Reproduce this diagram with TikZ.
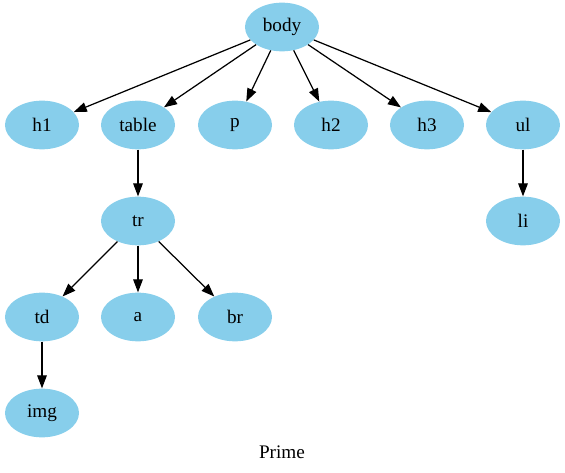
\documentclass[tikz,border=0pt]{standalone}
\usepackage{fontspec}
\setmainfont{Liberation Serif}
\usetikzlibrary{shapes.geometric,arrows.meta}
\definecolor{skyblue}{HTML}{87CEEB}
\begin{document}
\begin{tikzpicture}[x=0.7292pt,y=-0.7292pt,
  treenode/.style={ellipse,fill=skyblue,draw=none,minimum width=54pt,minimum height=35.5pt,inner sep=0pt,font=\fontsize{14pt}{16pt}\selectfont},
  edge/.style={draw=black,line width=0.9pt,-{Triangle[length=9.5pt,width=7pt]}}]
\useasboundingbox (0,0) rectangle (565,473);
\node[treenode] (body) at (282,27) {body};
\node[treenode] (h1) at (42,125) {h1};
\node[treenode] (table) at (138,125) {table};
\node[treenode] (p) at (235,125) {p};
\node[treenode] (h2) at (331,125) {h2};
\node[treenode] (h3) at (427,125) {h3};
\node[treenode] (ul) at (523,125) {ul};
\node[treenode] (tr) at (138,221) {tr};
\node[treenode] (li) at (523,221) {li};
\node[treenode] (td) at (42,317) {td};
\node[treenode] (a) at (138,317) {a};
\node[treenode] (br) at (235,317) {br};
\node[treenode] (img) at (42,413) {img};
\node[font=\fontsize{14pt}{16pt}\selectfont] (label) at (282,452) {Prime};
\foreach \t in {h1,table,p,h2,h3,ul} \draw[edge] (body) -- (\t);
\draw[edge] (table) -- (tr);
\draw[edge] (ul) -- (li);
\draw[edge] (tr) -- (td);
\draw[edge] (tr) -- (a);
\draw[edge] (tr) -- (br);
\draw[edge] (td) -- (img);
\end{tikzpicture}
\end{document}
